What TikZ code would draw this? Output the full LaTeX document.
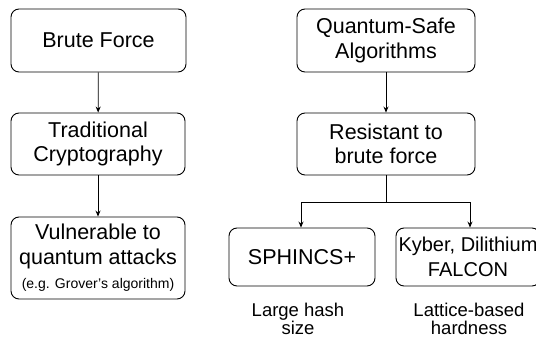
\documentclass[tikz,border=0pt]{standalone}
\usepackage{fontspec}
\setmainfont{Liberation Sans}
\usetikzlibrary{arrows.meta}

\begin{document}
\begin{tikzpicture}[x=1pt, y=1pt,
    box/.style={draw, line width=0.9pt, rounded corners=8pt, align=center,
        inner sep=2pt, font=\fontsize{21.5}{24.5}\selectfont},
    note/.style={align=center, font=\fontsize{18.5}{18.5}\selectfont},
    link/.style={line width=0.8pt, -{Stealth[length=6pt, width=5pt]}}]

    % Fix the page to the size of the reference
    \useasboundingbox (0,0) rectangle (536,338);
    \clip (0,0) rectangle (536,338);

    % Left column: the classical chain
    \node[box, minimum width=175pt, minimum height=63pt] (brute) at (98.5,297.5) {Brute Force};
    \node[box, minimum width=174pt, minimum height=62pt] (trad) at (98,194) {Traditional\\Cryptography};
    \node[box, minimum width=174pt, minimum height=82pt] (vuln) at (98,80)
        {Vulnerable to\\quantum attacks\\{\fontsize{14}{17}\selectfont (e.g. Grover’s algorithm)}};

    % Right column: the quantum-safe chain
    \node[box, minimum width=178pt, minimum height=63pt] (qsafe) at (386,297.5) {Quantum-Safe\\Algorithms};
    \node[box, minimum width=178pt, minimum height=62pt] (resist) at (386,194) {Resistant to\\brute force};
    \node[box, minimum width=146pt, minimum height=58pt] (sphincs) at (302,81) {SPHINCS+};
    \node[box, minimum width=144pt, minimum height=58pt, inner sep=1pt,
        font=\fontsize{20}{24.5}\selectfont] (kyber) at (468,81) {Kyber, Dilithium\\FALCON};

    % Notes under the two schemes
    \node[note] (hash) at (298,19) {Large hash\\size};
    \node[note] (lattice) at (469,19) {Lattice-based\\hardness};

    % Arrows
    \draw[link] (brute) -- (trad);
    \draw[link] (trad) -- (vuln);
    \draw[link] (qsafe) -- (resist);

    % Branch from the resistant box to both schemes
    \coordinate (split) at (386,136);
    \draw[line width=0.8pt] (resist.south) -- (split);
    \draw[link] (split) -| (sphincs.north -| 301,0);
    \draw[link] (split) -| (kyber.north -| 470,0);

\end{tikzpicture}
\end{document}
